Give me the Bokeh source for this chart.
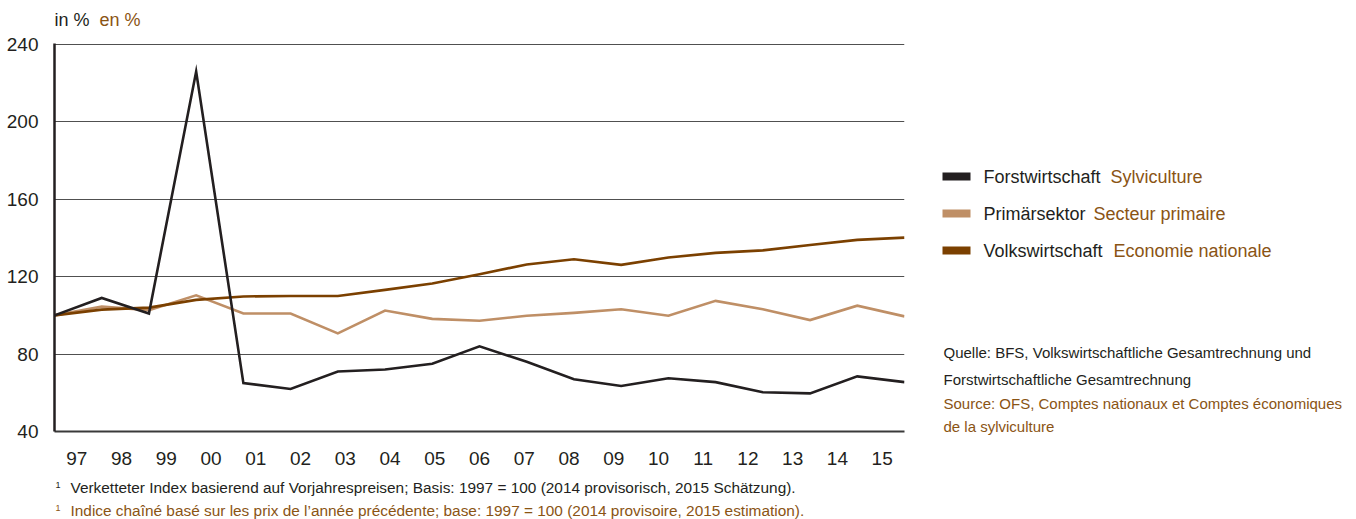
from bokeh.plotting import figure
from bokeh.models import Range1d, LinearAxis, FixedTicker
from bokeh.layouts import row, column
from bokeh.embed import file_html
from bokeh.resources import INLINE
from bokeh.core.properties import value

years = ["97", "98", "99", "00", "01", "02", "03", "04", "05", "06",
         "07", "08", "09", "10", "11", "12", "13", "14", "15"]
forst = [100, 109, 101, 226, 65, 62, 71, 72, 75, 84, 76, 67, 63.5, 67.5, 65.5, 60.3, 59.7, 68.5, 65.5]
primaer = [100, 104.5, 102.7, 110.4, 101, 101, 90.7, 102.5, 98.2, 97.2, 99.8, 101.3, 103.2, 99.8, 107.5, 103.2, 97.6, 105, 99.5]
volks = [100, 103, 104, 108, 109.8, 110, 110, 113.2, 116.5, 121.3, 126.3, 129, 126.1, 129.9, 132.3, 133.6, 136.4, 139, 140.2]
y_ticks = [40, 80, 120, 160, 200, 240]

series_de = ["Forstwirtschaft", "Primärsektor", "Volkswirtschaft"]
series_fr = ["Sylviculture", "Secteur primaire", "Economie nationale"]
colors = ["#231f20", "#bf8f66", "#7b4000"]

FONT = "Liberation Sans"
DARK = "#231f20"
BROWN = "#8a5414"

idx = list(range(len(years)))


def blank(w, h, x0, x1, y0, y1):
    f = figure(width=w, height=h, output_backend="svg", toolbar_location=None,
               x_range=Range1d(x0, x1), y_range=Range1d(y1, y0),
               x_axis_location=None, y_axis_location=None,
               min_border=0, min_border_left=0, min_border_right=0,
               min_border_top=0, min_border_bottom=0)
    f.outline_line_color = None
    f.xgrid.visible = False
    f.ygrid.visible = False
    return f


def txt(f, x, y, s, color, size, align="left"):
    f.text(x=[x], y=[y], text=[s], text_font=value(FONT), text_font_size=size,
           text_color=color, text_baseline="middle", text_align=align)


# top strip (page y 0..31); its frame is aligned with the chart frame (x 54..904)
top = blank(920, 31, 54, 904, 0, 31)
txt(top, 54, 19, "in %", DARK, "18px")
txt(top, 99, 19, "en %", BROWN, "18px")

# main chart (page y 31..475, frame 43..431)
p = figure(width=920, height=444, output_backend="svg", toolbar_location=None,
           x_range=Range1d(0, len(years) - 1), y_range=Range1d(40, 240.5),
           x_axis_location=None, y_axis_location=None,
           min_border_left=54, min_border_right=16, min_border_top=12, min_border_bottom=44)
p.outline_line_color = None
p.extra_x_ranges = {"lab": Range1d(0, len(years))}

yax = LinearAxis(ticker=FixedTicker(ticks=y_ticks))
yax.axis_line_color = DARK
yax.axis_line_width = 2.5
yax.major_tick_line_color = None
yax.minor_tick_line_color = None
yax.major_label_text_font = FONT
yax.major_label_text_font_size = "19px"
yax.major_label_text_color = DARK
yax.major_label_standoff = 10
p.add_layout(yax, "left")

xax = LinearAxis(x_range_name="lab",
                 ticker=FixedTicker(ticks=[i + 0.5 for i in idx]),
                 major_label_overrides={i + 0.5: y for i, y in zip(idx, years)})
xax.axis_line_color = "#3a3a3a"
xax.axis_line_width = 2
xax.major_tick_line_color = None
xax.minor_tick_line_color = None
xax.major_label_text_font = FONT
xax.major_label_text_font_size = "19px"
xax.major_label_text_color = DARK
xax.major_label_standoff = 14
p.add_layout(xax, "below")

p.ygrid.ticker = FixedTicker(ticks=y_ticks)
p.ygrid.grid_line_color = "#505050"
p.ygrid.grid_line_width = 1
p.xgrid.visible = False

for vals, col in zip([primaer, volks, forst], [colors[1], colors[2], colors[0]]):
    p.line(idx, vals, line_color=col, line_width=2.6, line_join="miter")

# bottom strip with footnotes (page y 475..519)
bot = blank(920, 44, 54, 904, 475, 519)
txt(bot, 55, 484, "1", DARK, "9px")
txt(bot, 70, 487, "Verketteter Index basierend auf Vorjahrespreisen; Basis: 1997 = 100 (2014 provisorisch, 2015 Schätzung).", DARK, "15.4px")
txt(bot, 55, 507, "1", BROWN, "9px")
txt(bot, 70, 510, "Indice chaîné basé sur les prix de l’année précédente; base: 1997 = 100 (2014 provisoire, 2015 estimation).", BROWN, "15.4px")

# right panel: legend and source (page x 920..1348, y 0..519)
r = blank(428, 519, 920, 1348, 0, 519)
leg_y = [176, 213, 250]
fr_x = [1110, 1093, 1113]
for de, fr, col, yy, fx in zip(series_de, series_fr, colors, leg_y, fr_x):
    r.quad(left=942, right=970, bottom=yy - 4, top=yy + 4, fill_color=col, line_color=None)
    txt(r, 983, yy, de, DARK, "18px")
    txt(r, fx, yy, fr, BROWN, "18px")

src = [("Quelle: BFS, Volkswirtschaftliche Gesamtrechnung und", DARK, 352),
       ("Forstwirtschaftliche Gesamtrechnung", DARK, 379),
       ("Source: OFS, Comptes nationaux et Comptes économiques", BROWN, 403),
       ("de la sylviculture", BROWN, 426)]
for t, c, yy in src:
    txt(r, 943, yy, t, c, "15px")

layout = row(column(top, p, bot), r)
open("out.html", "w").write(file_html(layout, INLINE))
